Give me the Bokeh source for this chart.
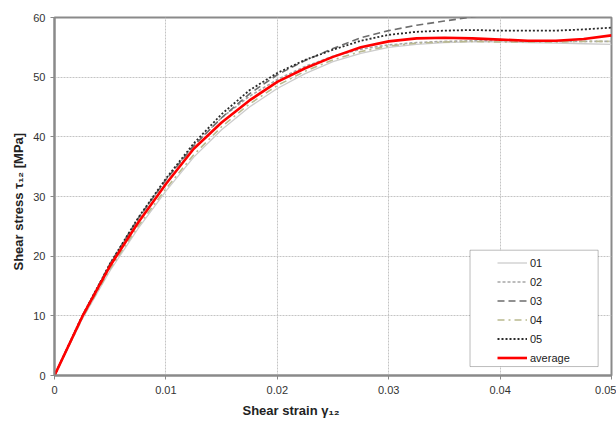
from bokeh.plotting import figure
from bokeh.models import BoxAnnotation, Legend, LegendItem, FixedTicker, Title
from bokeh.embed import file_html
from bokeh.resources import INLINE

strain = [0, 0.0025, 0.005, 0.0075, 0.01, 0.0125, 0.015, 0.0175, 0.02, 0.0225,
          0.025, 0.0275, 0.03, 0.0325, 0.035, 0.0375, 0.04, 0.0425, 0.045, 0.0475, 0.05]
s01 = [0, 9.5, 17.6, 24.6, 30.9, 36.6, 41.2, 45.0, 48.1, 50.6, 52.6, 54.0, 55.0, 55.5, 55.8, 55.9, 55.9, 55.8, 55.7, 55.6, 55.5]
s02 = [0, 10.0, 18.7, 26.2, 32.8, 38.6, 43.2, 46.8, 49.6, 51.8, 53.5, 54.7, 55.4, 55.8, 56.0, 56.1, 56.1, 56.0, 56.0, 56.0, 56.0]
s03 = [0, 10.0, 18.8, 26.3, 32.8, 38.5, 43.2, 47.2, 50.4, 52.8, 54.8, 56.6, 57.8, 58.7, 59.4, 60.1, 60.8]
s04 = [0, 9.6, 17.9, 25.0, 31.3, 37.0, 41.7, 45.5, 48.6, 51.0, 52.9, 54.3, 55.2, 55.7, 55.9, 56.0, 55.9, 55.9, 55.9, 56.0, 56.0]
s05 = [0, 10.0, 18.8, 26.4, 33.0, 38.9, 43.8, 47.8, 50.7, 52.9, 54.6, 56.1, 57.1, 57.6, 57.8, 57.9, 57.8, 57.8, 57.8, 58.0, 58.3]
avg = [0, 9.9, 18.4, 25.6, 32.1, 38.0, 42.4, 46.1, 49.2, 51.5, 53.4, 55.0, 56.0, 56.5, 56.6, 56.5, 56.3, 56.1, 56.1, 56.4, 57.0]

x_ticks = [0, 0.01, 0.02, 0.03, 0.04, 0.05]
x_tick_labels = ["0", "0.01", "0.02", "0.03", "0.04", "0.05"]
y_ticks = [0, 10, 20, 30, 40, 50, 60]
legend_labels = ["01", "02", "03", "04", "05", "average"]
x_title = "Shear strain  γ₁₂"
y_title = "Shear stress  τ₁₂ [MPa]"

FONT = "Liberation Sans"

p = figure(width=616, height=421, output_backend="svg", toolbar_location=None,
           x_range=(0, 0.05), y_range=(0, 60),
           min_border_left=54, min_border_right=5, min_border_top=17, min_border_bottom=46)
p.outline_line_color = "#8a8a8a"
p.outline_line_width = 2
p.background_fill_color = "white"
p.border_fill_color = "white"

for ax in (p.xaxis[0], p.yaxis[0]):
    ax.axis_line_color = "#8a8a8a"
    ax.axis_line_width = 2
    ax.major_tick_line_color = "#8a8a8a"
    ax.major_tick_out = 4
    ax.major_tick_in = 0
    ax.minor_tick_line_color = None
    ax.major_label_text_font = FONT
    ax.major_label_text_font_size = "11px"
    ax.major_label_text_color = "#333333"

p.xaxis[0].ticker = FixedTicker(ticks=x_ticks)
p.xaxis[0].major_label_overrides = {t: l for t, l in zip(x_ticks, x_tick_labels)}
p.xaxis[0].major_label_standoff = 6
p.yaxis[0].ticker = FixedTicker(ticks=y_ticks)
p.yaxis[0].major_label_standoff = 5

p.xgrid.grid_line_color = "#c4c4c4"
p.ygrid.grid_line_color = "#c4c4c4"
p.xgrid.grid_line_dash = "2 1"
p.ygrid.grid_line_dash = "2 1"

r01 = p.line(strain, s01, line_color="#cccccc", line_width=1.3)
r02 = p.line(strain, s02, line_color="#a6a6a6", line_width=1.6, line_dash="3 2")
r03 = p.line(strain[:len(s03)], s03, line_color="#6e6e6e", line_width=1.6, line_dash="7 4")
r04 = p.line(strain, s04, line_color="#b9b98f", line_width=1.6, line_dash="7 4 2 4")
r05 = p.line(strain, s05, line_color="#2a2a2a", line_width=1.8, line_dash="2 2")
ravg = p.line(strain, avg, line_color="#ff0000", line_width=2.6)

box = BoxAnnotation(left=0.0373, right=0.0488, bottom=1.5, top=21.0,
                    fill_color="white", fill_alpha=1.0, line_color="#222222", line_width=1)
p.add_layout(box)

items = [LegendItem(label=l, renderers=[r]) for l, r in
         zip(legend_labels, [r01, r02, r03, r04, r05, ravg])]
legend = Legend(items=items, location=(443, 9), padding=0, margin=0,
                spacing=2, glyph_width=30, glyph_height=17, label_height=17,
                label_standoff=3, border_line_color=None, background_fill_alpha=0,
                label_text_font=FONT, label_text_font_size="11px", label_text_color="#222222")
p.add_layout(legend, "center")

xt = Title(text=x_title, align="left", offset=188, text_font=FONT, text_font_style="bold",
           text_font_size="13px", text_color="#222222", standoff=8)
p.add_layout(xt, "below")
yt = Title(text=y_title, align="left", offset=105, text_font=FONT, text_font_style="bold",
           text_font_size="13px", text_color="#222222", standoff=10)
p.add_layout(yt, "left")

open("out.html", "w").write(file_html(p, INLINE))
